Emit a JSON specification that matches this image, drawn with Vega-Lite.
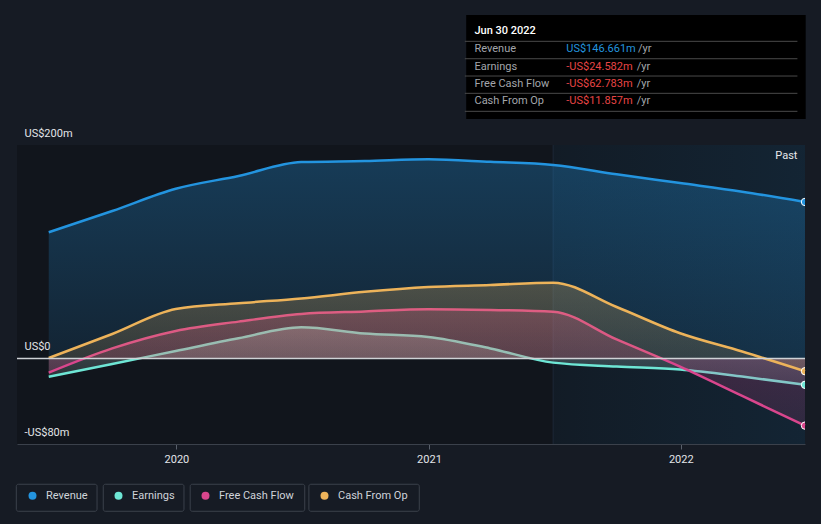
{
  "$schema": "https://vega.github.io/schema/vega-lite/v6.json",
  "width": 788,
  "height": 299,
  "autosize": {"type": "none"},
  "padding": {"left": 17, "top": 145, "right": 16, "bottom": 80},
  "background": "#161b24",
  "config": {
    "view": {"stroke": null, "fill": "#11151c"},
    "font": "Roboto",
    "locale": {"number": {"decimal": ".", "thousands": ",", "grouping": [3], "currency": ["US$", "m"], "minus": "-"}},
    "legend": {"labelColor": "#cfd3da", "labelFontSize": 11, "labelFont": "Roboto"}
  },
  "datasets": {
    "fin": [
      {"date": "2019-06-30", "series": "Revenue", "value": 118.3},
      {"date": "2019-09-30", "series": "Revenue", "value": 138.2},
      {"date": "2019-12-31", "series": "Revenue", "value": 159.0},
      {"date": "2020-03-31", "series": "Revenue", "value": 171.0},
      {"date": "2020-06-30", "series": "Revenue", "value": 184.0},
      {"date": "2020-09-30", "series": "Revenue", "value": 185.0},
      {"date": "2020-12-31", "series": "Revenue", "value": 186.6},
      {"date": "2021-03-31", "series": "Revenue", "value": 184.2},
      {"date": "2021-06-30", "series": "Revenue", "value": 181.3},
      {"date": "2021-09-30", "series": "Revenue", "value": 172.6},
      {"date": "2021-12-31", "series": "Revenue", "value": 164.4},
      {"date": "2022-03-31", "series": "Revenue", "value": 156.3},
      {"date": "2022-06-30", "series": "Revenue", "value": 146.661},
      {"date": "2019-06-30", "series": "Earnings", "value": -17.0},
      {"date": "2019-09-30", "series": "Earnings", "value": -5.1},
      {"date": "2019-12-31", "series": "Earnings", "value": 7.1},
      {"date": "2020-03-31", "series": "Earnings", "value": 19.0},
      {"date": "2020-06-30", "series": "Earnings", "value": 29.3},
      {"date": "2020-09-30", "series": "Earnings", "value": 23.5},
      {"date": "2020-12-31", "series": "Earnings", "value": 20.2},
      {"date": "2021-03-31", "series": "Earnings", "value": 9.5},
      {"date": "2021-06-30", "series": "Earnings", "value": -3.8},
      {"date": "2021-09-30", "series": "Earnings", "value": -7.4},
      {"date": "2021-12-31", "series": "Earnings", "value": -10.2},
      {"date": "2022-03-31", "series": "Earnings", "value": -16.8},
      {"date": "2022-06-30", "series": "Earnings", "value": -24.582},
      {"date": "2019-06-30", "series": "Free Cash Flow", "value": -13.2},
      {"date": "2019-09-30", "series": "Free Cash Flow", "value": 9.5},
      {"date": "2019-12-31", "series": "Free Cash Flow", "value": 25.8},
      {"date": "2020-03-31", "series": "Free Cash Flow", "value": 34.6},
      {"date": "2020-06-30", "series": "Free Cash Flow", "value": 41.8},
      {"date": "2020-09-30", "series": "Free Cash Flow", "value": 44.1},
      {"date": "2020-12-31", "series": "Free Cash Flow", "value": 46.2},
      {"date": "2021-03-31", "series": "Free Cash Flow", "value": 45.5},
      {"date": "2021-06-30", "series": "Free Cash Flow", "value": 43.9},
      {"date": "2021-09-30", "series": "Free Cash Flow", "value": 17.9},
      {"date": "2021-12-31", "series": "Free Cash Flow", "value": -7.6},
      {"date": "2022-03-31", "series": "Free Cash Flow", "value": -35.0},
      {"date": "2022-06-30", "series": "Free Cash Flow", "value": -62.783},
      {"date": "2019-06-30", "series": "Cash From Op", "value": 0.5},
      {"date": "2019-09-30", "series": "Cash From Op", "value": 23.0},
      {"date": "2019-12-31", "series": "Cash From Op", "value": 46.4},
      {"date": "2020-03-31", "series": "Cash From Op", "value": 51.8},
      {"date": "2020-06-30", "series": "Cash From Op", "value": 56.3},
      {"date": "2020-09-30", "series": "Cash From Op", "value": 62.5},
      {"date": "2020-12-31", "series": "Cash From Op", "value": 67.0},
      {"date": "2021-03-31", "series": "Cash From Op", "value": 68.9},
      {"date": "2021-06-30", "series": "Cash From Op", "value": 71.1},
      {"date": "2021-09-30", "series": "Cash From Op", "value": 48.3},
      {"date": "2021-12-31", "series": "Cash From Op", "value": 23.7},
      {"date": "2022-03-31", "series": "Cash From Op", "value": 6.6},
      {"date": "2022-06-30", "series": "Cash From Op", "value": -11.857}
    ]
  },
  "data": {"name": "fin"},
  "layer": [
    {
      "data": {"values": [{"region": "Past"}]},
      "mark": {"type": "rect", "fill": {"gradient": "linear", "x1": 0, "y1": 0, "x2": 1, "y2": 0, "stops": [{"offset": 0, "color": "rgba(35,148,223,0.05)"}, {"offset": 1, "color": "rgba(35,148,223,0.12)"}]}},
      "encoding": {
        "x": {"datum": {"year": 2021, "month": 6, "date": 30, "utc": true}, "type": "temporal"},
        "x2": {"datum": {"year": 2022, "month": 6, "date": 30, "utc": true}},
        "y": {"datum": 200, "type": "quantitative"},
        "y2": {"datum": -80}
      }
    },
    {
      "data": {"values": [{"region": "Past"}]},
      "mark": {"type": "rule", "color": "#1d2837", "strokeWidth": 1},
      "encoding": {
        "x": {"datum": {"year": 2021, "month": 6, "date": 30, "utc": true}, "type": "temporal"},
        "y": {"datum": 200, "type": "quantitative"},
        "y2": {"datum": -80}
      }
    },
    {
      "transform": [{"filter": "datum.series === 'Revenue'"}],
      "mark": {"type": "area", "interpolate": "monotone", "fill": {"gradient": "linear", "x1": 0, "y1": 0, "x2": 0, "y2": 1, "stops": [{"offset": 0, "color": "rgba(35,148,223,0.30)"}, {"offset": 1, "color": "rgba(35,148,223,0.12)"}]}},
      "encoding": {
        "x": {
          "field": "date", "type": "temporal",
          "scale": {"type": "utc", "domain": [{"year": 2019, "month": 5, "date": 15, "utc": true}, {"year": 2022, "month": 6, "date": 30, "utc": true}], "nice": false},
          "axis": {"title": null, "format": "%Y", "tickCount": "year", "grid": false, "domainColor": "#3b414b", "tickColor": "#59606b", "tickSize": 5, "labelColor": "#e3e5e8", "labelFontSize": 11, "labelPadding": 4, "labelFont": "Roboto"}
        },
        "y": {
          "field": "value", "type": "quantitative",
          "scale": {"domain": [-80, 200], "nice": false, "zero": false},
          "axis": {
            "title": null, "values": [-80, 0, 100, 200], "domain": false, "ticks": false, "tickSize": 0,
            "labelAlign": "left", "labelBaseline": "middle", "labelPadding": -7, "labelOffset": -12,
            "labelColor": "#e3e5e8", "labelFontSize": 11, "labelFont": "Roboto",
            "labelExpr": "datum.value == 100 ? '' : (datum.value == 0 ? 'US$0' : (datum.value < 0 ? '-US$' + abs(datum.value) + 'm' : 'US$' + datum.value + 'm'))",
            "gridColor": {"condition": {"test": "datum.value === 100", "value": "#263241"}, "value": "#3b414b"},
            "gridWidth": 1
          }
        },
        "y2": {"datum": 0}
      }
    },
    {
      "transform": [{"filter": "datum.series === 'Revenue'"}],
      "mark": {"type": "line", "interpolate": "monotone", "color": "#2394df", "strokeWidth": 2.5},
      "encoding": {"x": {"field": "date", "type": "temporal"}, "y": {"field": "value", "type": "quantitative"}}
    },
    {
      "transform": [{"filter": "datum.series === 'Earnings'"}],
      "mark": {"type": "area", "interpolate": "monotone", "fill": {"gradient": "linear", "x1": 0, "y1": 0, "x2": 0, "y2": 1, "stops": [{"offset": 0, "color": "rgba(200,235,230,0.28)"}, {"offset": 1, "color": "rgba(200,235,230,0.12)"}]}},
      "encoding": {"x": {"field": "date", "type": "temporal"}, "y": {"field": "value", "type": "quantitative"}, "y2": {"datum": 0}}
    },
    {
      "transform": [{"filter": "datum.series === 'Earnings'"}],
      "mark": {"type": "line", "interpolate": "monotone", "color": "#6ee6d5", "strokeWidth": 2.5},
      "encoding": {"x": {"field": "date", "type": "temporal"}, "y": {"field": "value", "type": "quantitative"}}
    },
    {
      "transform": [{"filter": "datum.series === 'Free Cash Flow'"}],
      "mark": {"type": "area", "interpolate": "monotone", "fill": {"gradient": "linear", "x1": 0, "y1": 0, "x2": 0, "y2": 1, "stops": [{"offset": 0, "color": "rgba(217,70,141,0.28)"}, {"offset": 1, "color": "rgba(217,70,141,0.14)"}]}},
      "encoding": {"x": {"field": "date", "type": "temporal"}, "y": {"field": "value", "type": "quantitative"}, "y2": {"datum": 0}}
    },
    {
      "transform": [{"filter": "datum.series === 'Free Cash Flow'"}],
      "mark": {"type": "line", "interpolate": "monotone", "color": "#d9468d", "strokeWidth": 2.5},
      "encoding": {"x": {"field": "date", "type": "temporal"}, "y": {"field": "value", "type": "quantitative"}}
    },
    {
      "transform": [{"filter": "datum.series === 'Cash From Op'"}],
      "mark": {"type": "area", "interpolate": "monotone", "fill": {"gradient": "linear", "x1": 0, "y1": 0, "x2": 0, "y2": 1, "stops": [{"offset": 0, "color": "rgba(237,179,90,0.26)"}, {"offset": 1, "color": "rgba(237,179,90,0.12)"}]}},
      "encoding": {"x": {"field": "date", "type": "temporal"}, "y": {"field": "value", "type": "quantitative"}, "y2": {"datum": 0}}
    },
    {
      "transform": [{"filter": "datum.series === 'Cash From Op'"}],
      "mark": {"type": "line", "interpolate": "monotone", "color": "#edb35a", "strokeWidth": 2.5},
      "encoding": {"x": {"field": "date", "type": "temporal"}, "y": {"field": "value", "type": "quantitative"}}
    },
    {
      "data": {"values": [{"line": "zero"}]},
      "mark": {"type": "rule", "color": "#cfd2d6", "strokeWidth": 1.5},
      "encoding": {"y": {"datum": 0, "type": "quantitative"}}
    },
    {
      "transform": [{"filter": {"field": "date", "equal": {"year": 2022, "month": 6, "date": 30, "utc": true}}}],
      "mark": {"type": "point", "filled": true, "size": 55, "stroke": "#ffffff", "strokeWidth": 1, "opacity": 1, "clip": true},
      "encoding": {
        "x": {"field": "date", "type": "temporal"},
        "y": {"field": "value", "type": "quantitative"},
        "color": {
          "field": "series", "type": "nominal",
          "scale": {"domain": ["Revenue", "Earnings", "Free Cash Flow", "Cash From Op"], "range": ["#2394df", "#6ee6d5", "#d9468d", "#edb35a"]},
          "legend": {"title": null, "orient": "none", "legendX": 10, "legendY": 345, "direction": "horizontal", "symbolType": "circle", "symbolSize": 64, "symbolStrokeWidth": 0, "columnPadding": 25, "labelOffset": 8}
        }
      }
    },
    {
      "data": {"values": [{"box": "Revenue"}]},
      "mark": {"type": "rect", "fill": null, "stroke": "#3b414b", "strokeWidth": 1, "cornerRadius": 2},
      "encoding": {
        "x": {"datum": {"year": 2019, "month": 5, "date": 14, "utc": true}, "type": "temporal"},
        "x2": {"datum": {"year": 2019, "month": 9, "date": 8, "utc": true}},
        "y": {"datum": -117.7, "type": "quantitative"},
        "y2": {"datum": -143.0}
      }
    },
    {
      "data": {"values": [{"box": "Earnings"}]},
      "mark": {"type": "rect", "fill": null, "stroke": "#3b414b", "strokeWidth": 1, "cornerRadius": 2},
      "encoding": {
        "x": {"datum": {"year": 2019, "month": 9, "date": 17, "utc": true}, "type": "temporal"},
        "x2": {"datum": {"year": 2020, "month": 1, "date": 12, "utc": true}},
        "y": {"datum": -117.7, "type": "quantitative"},
        "y2": {"datum": -143.0}
      }
    },
    {
      "data": {"values": [{"box": "Free Cash Flow"}]},
      "mark": {"type": "rect", "fill": null, "stroke": "#3b414b", "strokeWidth": 1, "cornerRadius": 2},
      "encoding": {
        "x": {"datum": {"year": 2020, "month": 1, "date": 21, "utc": true}, "type": "temporal"},
        "x2": {"datum": {"year": 2020, "month": 7, "date": 5, "utc": true}},
        "y": {"datum": -117.7, "type": "quantitative"},
        "y2": {"datum": -143.0}
      }
    },
    {
      "data": {"values": [{"box": "Cash From Op"}]},
      "mark": {"type": "rect", "fill": null, "stroke": "#3b414b", "strokeWidth": 1, "cornerRadius": 2},
      "encoding": {
        "x": {"datum": {"year": 2020, "month": 7, "date": 11, "utc": true}, "type": "temporal"},
        "x2": {"datum": {"year": 2020, "month": 12, "date": 18, "utc": true}},
        "y": {"datum": -117.7, "type": "quantitative"},
        "y2": {"datum": -143.0}
      }
    },
    {
      "data": {"values": [{"label": "Past"}]},
      "mark": {"type": "text", "align": "right", "baseline": "middle", "color": "#e8e9eb", "fontSize": 11, "font": "Roboto"},
      "encoding": {
        "x": {"datum": {"year": 2022, "month": 6, "date": 19, "utc": true}, "type": "temporal"},
        "y": {"datum": 189.7, "type": "quantitative"},
        "text": {"field": "label"}
      }
    },
    {
      "data": {"values": [{"box": "tooltip"}]},
      "mark": {"type": "rect", "fill": "#000000"},
      "encoding": {
        "x": {"datum": {"year": 2021, "month": 2, "date": 24, "utc": true}, "type": "temporal"},
        "x2": {"datum": {"year": 2022, "month": 7, "date": 1, "utc": true}},
        "y": {"datum": 321.7, "type": "quantitative"},
        "y2": {"datum": 224.3}
      }
    },
    {
      "data": {"values": [{"label": "Jun 30 2022"}]},
      "mark": {"type": "text", "align": "left", "baseline": "middle", "color": "#ffffff", "fontSize": 11, "fontWeight": 500, "font": "Roboto"},
      "encoding": {
        "x": {"datum": {"year": 2021, "month": 3, "date": 8, "utc": true}, "type": "temporal"},
        "y": {"datum": 307.0, "type": "quantitative"},
        "text": {"field": "label"}
      }
    },
    {
      "transform": [{"filter": {"field": "date", "equal": {"year": 2022, "month": 6, "date": 30, "utc": true}}}, {"filter": "datum.series === 'Revenue'"}],
      "encoding": {"y": {"datum": 289.6, "type": "quantitative"}},
      "layer": [
        {"mark": {"type": "rule", "color": "#4a4a4a", "strokeWidth": 1, "yOffset": -8}, "encoding": {"x": {"datum": {"year": 2021, "month": 2, "date": 22, "utc": true}, "type": "temporal"}, "x2": {"datum": {"year": 2022, "month": 6, "date": 19, "utc": true}}}},
        {"mark": {"type": "text", "align": "left", "baseline": "middle", "color": "#a3a6ab", "fontSize": 11, "font": "Roboto"}, "encoding": {"x": {"datum": {"year": 2021, "month": 3, "date": 8, "utc": true}, "type": "temporal"}, "text": {"field": "series"}}},
        {"mark": {"type": "text", "align": "left", "baseline": "middle", "color": "#2394df", "fontSize": 11, "font": "Roboto"}, "encoding": {"x": {"datum": {"year": 2021, "month": 7, "date": 19, "utc": true}, "type": "temporal"}, "text": {"field": "value", "type": "quantitative", "format": "$,.3f"}}},
        {"mark": {"type": "text", "align": "left", "baseline": "middle", "color": "#a3a6ab", "fontSize": 11, "font": "Roboto", "text": "/yr"}, "encoding": {"x": {"datum": {"year": 2021, "month": 10, "date": 31, "utc": true}, "type": "temporal"}}}
      ]
    },
    {
      "transform": [{"filter": {"field": "date", "equal": {"year": 2022, "month": 6, "date": 30, "utc": true}}}, {"filter": "datum.series === 'Earnings'"}],
      "encoding": {"y": {"datum": 273.3, "type": "quantitative"}},
      "layer": [
        {"mark": {"type": "rule", "color": "#4a4a4a", "strokeWidth": 1, "yOffset": -8}, "encoding": {"x": {"datum": {"year": 2021, "month": 2, "date": 22, "utc": true}, "type": "temporal"}, "x2": {"datum": {"year": 2022, "month": 6, "date": 19, "utc": true}}}},
        {"mark": {"type": "text", "align": "left", "baseline": "middle", "color": "#a3a6ab", "fontSize": 11, "font": "Roboto"}, "encoding": {"x": {"datum": {"year": 2021, "month": 3, "date": 8, "utc": true}, "type": "temporal"}, "text": {"field": "series"}}},
        {"mark": {"type": "text", "align": "left", "baseline": "middle", "color": "#e84545", "fontSize": 11, "font": "Roboto"}, "encoding": {"x": {"datum": {"year": 2021, "month": 7, "date": 19, "utc": true}, "type": "temporal"}, "text": {"field": "value", "type": "quantitative", "format": "$,.3f"}}},
        {"mark": {"type": "text", "align": "left", "baseline": "middle", "color": "#a3a6ab", "fontSize": 11, "font": "Roboto", "text": "/yr"}, "encoding": {"x": {"datum": {"year": 2021, "month": 10, "date": 29, "utc": true}, "type": "temporal"}}}
      ]
    },
    {
      "transform": [{"filter": {"field": "date", "equal": {"year": 2022, "month": 6, "date": 30, "utc": true}}}, {"filter": "datum.series === 'Free Cash Flow'"}],
      "encoding": {"y": {"datum": 257.1, "type": "quantitative"}},
      "layer": [
        {"mark": {"type": "rule", "color": "#4a4a4a", "strokeWidth": 1, "yOffset": -8}, "encoding": {"x": {"datum": {"year": 2021, "month": 2, "date": 22, "utc": true}, "type": "temporal"}, "x2": {"datum": {"year": 2022, "month": 6, "date": 19, "utc": true}}}},
        {"mark": {"type": "text", "align": "left", "baseline": "middle", "color": "#a3a6ab", "fontSize": 11, "font": "Roboto"}, "encoding": {"x": {"datum": {"year": 2021, "month": 3, "date": 8, "utc": true}, "type": "temporal"}, "text": {"field": "series"}}},
        {"mark": {"type": "text", "align": "left", "baseline": "middle", "color": "#e84545", "fontSize": 11, "font": "Roboto"}, "encoding": {"x": {"datum": {"year": 2021, "month": 7, "date": 19, "utc": true}, "type": "temporal"}, "text": {"field": "value", "type": "quantitative", "format": "$,.3f"}}},
        {"mark": {"type": "text", "align": "left", "baseline": "middle", "color": "#a3a6ab", "fontSize": 11, "font": "Roboto", "text": "/yr"}, "encoding": {"x": {"datum": {"year": 2021, "month": 10, "date": 29, "utc": true}, "type": "temporal"}}}
      ]
    },
    {
      "transform": [{"filter": {"field": "date", "equal": {"year": 2022, "month": 6, "date": 30, "utc": true}}}, {"filter": "datum.series === 'Cash From Op'"}],
      "encoding": {"y": {"datum": 240.9, "type": "quantitative"}},
      "layer": [
        {"mark": {"type": "rule", "color": "#4a4a4a", "strokeWidth": 1, "yOffset": -8}, "encoding": {"x": {"datum": {"year": 2021, "month": 2, "date": 22, "utc": true}, "type": "temporal"}, "x2": {"datum": {"year": 2022, "month": 6, "date": 19, "utc": true}}}},
        {"mark": {"type": "rule", "color": "#4a4a4a", "strokeWidth": 1, "yOffset": 10}, "encoding": {"x": {"datum": {"year": 2021, "month": 2, "date": 22, "utc": true}, "type": "temporal"}, "x2": {"datum": {"year": 2022, "month": 6, "date": 19, "utc": true}}}},
        {"mark": {"type": "text", "align": "left", "baseline": "middle", "color": "#a3a6ab", "fontSize": 11, "font": "Roboto"}, "encoding": {"x": {"datum": {"year": 2021, "month": 3, "date": 8, "utc": true}, "type": "temporal"}, "text": {"field": "series"}}},
        {"mark": {"type": "text", "align": "left", "baseline": "middle", "color": "#e84545", "fontSize": 11, "font": "Roboto"}, "encoding": {"x": {"datum": {"year": 2021, "month": 7, "date": 19, "utc": true}, "type": "temporal"}, "text": {"field": "value", "type": "quantitative", "format": "$,.3f"}}},
        {"mark": {"type": "text", "align": "left", "baseline": "middle", "color": "#a3a6ab", "fontSize": 11, "font": "Roboto", "text": "/yr"}, "encoding": {"x": {"datum": {"year": 2021, "month": 10, "date": 29, "utc": true}, "type": "temporal"}}}
      ]
    }
  ]
}
